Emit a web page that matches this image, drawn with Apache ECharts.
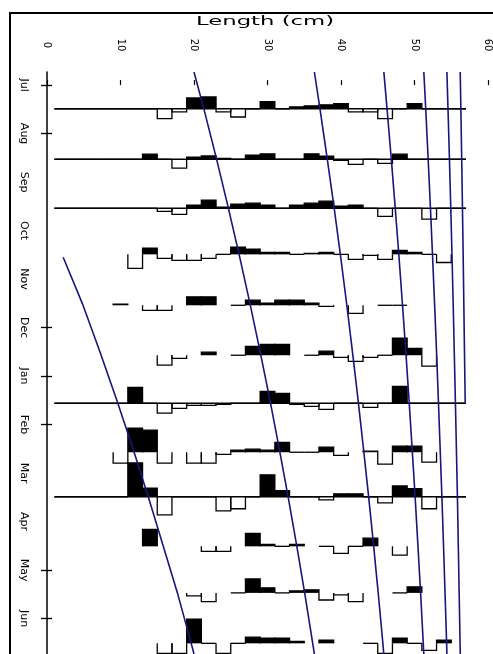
<!DOCTYPE html>
<html>
<head>
<meta charset="utf-8">
<script src="https://cdn.jsdelivr.net/npm/echarts@6/dist/echarts.min.js"></script>
<style>
  html, body { margin: 0; padding: 0; background: #fff; }
  #chart { width: 493px; height: 654px; }
</style>
</head>
<body>
<div id="chart"></div>
<script>
// Month labels along the sampling axis (0 = 1 July)
const monthLabels = ['Jul', 'Aug', 'Sep', 'Oct', 'Nov', 'Dec', 'Jan', 'Feb', 'Mar', 'Apr', 'May', 'Jun'];
const monthLabelValues = [0, 1, 2, 3, 4, 5, 6, 7, 8, 9, 10, 11];
const monthTickValues = [0, 1, 5, 6, 7, 10, 11];
const lengthTicks = [0, 10, 20, 30, 40, 50, 60];

// Length classes (mid-points, cm), 2 cm wide
const binMids = [2, 4, 6, 8, 10, 12, 14, 16, 18, 20, 22, 24, 26, 28,
                 30, 32, 34, 36, 38, 40, 42, 44, 46, 48, 50, 52, 54, 56];

// Sampling dates, in months after 1 July
const sampleMonths = [0.49, 1.53, 2.54, 3.49, 4.54, 5.57, 6.56, 7.57, 8.49, 9.51, 10.47, 11.51];
const sampleBaseline = [true, true, true, false, false, false, true, false, true, false, false, false];

// Restructured frequency scores per sample and length class (null = empty class)
const scoresJul = [0, 0, 0, 0, 0, 0, 0, -0.29, -0.09, 0.32, 0.35, -0.09, -0.24, 0, 0.21, 0, 0.06, 0.09, 0.12, 0.15, -0.09, -0.09, -0.29, 0, 0.15, 0, 0, 0];
const scoresAug = [0, 0, 0, 0, 0, 0, 0.15, 0, -0.26, 0.06, 0.1, 0.03, 0, 0.12, 0.16, 0, 0, 0.16, 0.09, -0.03, -0.15, 0, -0.12, 0.15, 0, 0, 0, 0];
const scoresSep = [0, 0, 0, 0, 0, 0, 0, -0.09, -0.18, 0.09, 0.24, 0.03, 0.12, 0.15, 0.09, 0, 0.09, 0.15, 0.21, 0.06, 0.09, 0, -0.24, 0, 0, -0.32, 0, 0];
const scoresOct = [null, null, null, null, null, -0.41, 0.18, -0.12, -0.18, -0.18, -0.12, 0, 0.21, 0.15, 0.06, 0.06, 0, 0.03, 0.06, 0, -0.15, -0.03, -0.15, 0.12, 0.06, 0, -0.24, null];
const scoresNov = [null, null, null, null, 0.03, null, -0.15, -0.15, null, 0.25, 0.25, null, 0, 0.15, 0.06, 0.15, 0.15, 0.06, -0.03, null, -0.24, null, 0, 0, null, null, null, null];
const scoresDec = [null, null, null, null, null, null, null, -0.29, -0.09, null, 0.09, null, 0, 0.26, 0.32, 0.32, null, 0, 0.12, -0.06, -0.18, -0.06, 0, 0.5, 0.2, -0.32, null, null];
const scoresJan = [0, 0, 0, 0, 0, 0.47, 0, -0.29, -0.15, -0.06, -0.06, -0.03, 0, 0, 0.35, 0.29, -0.03, -0.09, -0.18, 0, 0, -0.12, 0, 0.5, 0, 0, 0, 0];
const scoresFeb = [null, null, null, null, -0.32, 0.71, 0.65, -0.32, null, -0.32, -0.32, -0.06, 0.06, 0.09, 0.06, 0.29, 0, 0, 0.15, -0.09, null, 0.03, -0.35, 0.18, 0.18, -0.29, null, null];
const scoresMar = [0, 0, 0, 0, 0, 1.0, 0.26, -0.53, 0, 0, 0, -0.41, -0.35, 0, 0.65, 0.18, 0, 0, -0.09, 0.09, 0.09, 0, -0.18, 0.32, 0.24, -0.35, 0, 0];
const scoresApr = [null, null, null, null, null, null, 0.5, null, null, null, -0.15, -0.15, null, 0.38, 0.06, 0, 0.06, null, 0, -0.21, 0, 0.24, null, -0.26, null, null, null, null];
const scoresMay = [null, null, null, null, null, null, null, null, null, -0.09, -0.26, null, 0, 0.41, 0.15, 0, 0.06, 0.09, -0.21, -0.06, -0.26, null, null, 0, 0.18, null, null, null];
const scoresJun = [null, null, null, null, null, null, null, -0.3, -0.3, 0.71, 0, -0.3, 0, 0.18, 0.15, 0.15, 0.06, null, 0.09, null, null, 0, -0.3, 0.15, 0, -0.21, 0.09, null];
const sampleScores = [scoresJul, scoresAug, scoresSep, scoresOct, scoresNov, scoresDec,
                      scoresJan, scoresFeb, scoresMar, scoresApr, scoresMay, scoresJun];

// Growth curves, one per cohort: [length (cm), month]
const cohort0 = [[2.2, 3.55], [4.8, 4.5], [7.2, 5.5], [9.5, 6.5], [11.7, 7.5], [13.8, 8.5], [15.8, 9.5], [17.8, 10.5], [19.6, 11.5], [20.0, 11.73]];
const cohort1 = [[20.0, -0.27], [21.36, 0.5], [23.03, 1.5], [24.62, 2.5], [26.15, 3.5], [27.61, 4.5], [29.0, 5.5], [30.34, 6.5], [31.6, 7.5], [32.82, 8.5], [33.98, 9.5], [35.09, 10.5], [36.14, 11.5], [36.38, 11.73]];
const cohort2 = [[36.38, -0.27], [37.15, 0.5], [38.11, 1.5], [39.04, 2.5], [39.92, 3.5], [40.76, 4.5], [41.56, 5.5], [42.33, 6.5], [43.06, 7.5], [43.77, 8.5], [44.44, 9.5], [45.08, 10.5], [45.69, 11.5], [45.82, 11.73]];
const cohort3 = [[45.83, -0.27], [46.27, 0.5], [46.83, 1.5], [47.36, 2.5], [47.87, 3.5], [48.35, 4.5], [48.82, 5.5], [49.26, 6.5], [49.68, 7.5], [50.09, 8.5], [50.47, 9.5], [50.84, 10.5], [51.19, 11.5], [51.27, 11.73]];
const cohort4 = [[51.27, -0.27], [51.53, 0.5], [51.85, 1.5], [52.16, 2.5], [52.45, 3.5], [52.73, 4.5], [53.0, 5.5], [53.25, 6.5], [53.49, 7.5], [53.73, 8.5], [53.95, 9.5], [54.16, 10.5], [54.37, 11.5], [54.41, 11.73]];
const cohort5 = [[54.41, -0.27], [54.56, 0.5], [54.75, 1.5], [54.93, 2.5], [55.1, 3.5], [55.26, 4.5], [55.41, 5.5], [55.56, 6.5], [55.7, 7.5], [55.84, 8.5], [55.96, 9.5], [56.08, 10.5], [56.2, 11.5], [56.23, 11.73]];
const cohort6 = [[56.22, -0.27], [56.31, 0.5], [56.42, 1.5], [56.52, 2.5], [56.62, 3.5], [56.71, 4.5], [56.8, 5.5], [56.9, 6.56]];
const cohorts = [cohort0, cohort1, cohort2, cohort3, cohort4, cohort5, cohort6];

const BIN_WIDTH = 2;          // cm
const LENGTH_MIN = 1, LENGTH_MAX = 57;
const SCORE_TO_MONTHS = 0.70; // bar height of a score of 1, in months
const INK = '#000';
const CURVE = '#16167c';

// Flatten the histogram scores into [length, month, score] records
const barData = [];
sampleScores.forEach((row, i) => {
  row.forEach((v, j) => {
    if (v !== null) barData.push([binMids[j], sampleMonths[i], v]);
  });
});
const baselineData = sampleMonths
  .map((m, i) => sampleBaseline[i] ? [LENGTH_MIN, m, LENGTH_MAX] : null)
  .filter(d => d);

function renderBin(params, api) {
  const L = api.value(0), t = api.value(1), v = api.value(2);
  const a = api.coord([L - BIN_WIDTH / 2, t]);
  const b = api.coord([L + BIN_WIDTH / 2, t - v * SCORE_TO_MONTHS]);
  const stroke = { stroke: INK, lineWidth: 1.3, fill: null };
  if (v === 0) {
    return { type: 'line', shape: { x1: a[0], y1: a[1], x2: b[0], y2: a[1] }, style: stroke };
  }
  if (v > 0) {
    return {
      type: 'group',
      children: [
        { type: 'rect', shape: { x: a[0], y: b[1], width: b[0] - a[0], height: a[1] - b[1] }, style: { fill: INK } },
        { type: 'polyline', shape: { points: [[a[0], a[1]], [a[0], b[1]], [b[0], b[1]], [b[0], a[1]]] }, style: stroke }
      ]
    };
  }
  return {
    type: 'polyline',
    shape: { points: [[a[0], a[1]], [a[0], b[1]], [b[0], b[1]], [b[0], a[1]]] },
    style: stroke
  };
}

function renderBaseline(params, api) {
  const p0 = api.coord([api.value(0), api.value(1)]);
  const p1 = api.coord([api.value(2), api.value(1)]);
  return { type: 'line', shape: { x1: p0[0], y1: p0[1], x2: p1[0], y2: p1[1] }, style: { stroke: INK, lineWidth: 1.5 } };
}

const chart = echarts.init(document.getElementById('chart'), null, { renderer: 'canvas' });

const series = [
  { type: 'custom', name: 'baselines', renderItem: renderBaseline, data: baselineData,
    encode: { x: [0, 2], y: 1 }, silent: true, z: 2 },
  { type: 'custom', name: 'scores', renderItem: renderBin, data: barData,
    encode: { x: 0, y: 1 }, silent: true, z: 3 }
];
cohorts.forEach((c, i) => {
  series.push({
    type: 'line', name: 'cohort' + i, data: c, showSymbol: false, symbol: 'none',
    lineStyle: { color: CURVE, width: 1.6 }, silent: true, z: 4, animation: false
  });
});

chart.setOption({
  animation: false,
  backgroundColor: '#fff',
  grid: { left: 47, top: 72, width: 441, height: 582 },
  xAxis: {
    type: 'value', position: 'top', min: 0, max: 60, interval: 10, offset: 9,
    axisLine: { show: false },
    axisTick: { show: true, length: 5, customValues: lengthTicks, lineStyle: { color: INK, width: 1.2 } },
    axisLabel: { customValues: lengthTicks, rotate: -90, margin: 18, align: 'center', verticalAlign: 'middle',
                 fontSize: 10, color: INK, fontFamily: 'DejaVu Sans' },
    splitLine: { show: false }
  },
  yAxis: [
    {
      type: 'value', inverse: true, min: -0.27, max: 11.73, position: 'left',
      axisLine: { show: true, lineStyle: { color: INK, width: 1.5 } },
      axisTick: { show: true, length: 6, customValues: monthTickValues, lineStyle: { color: INK, width: 1.3 } },
      axisLabel: { customValues: monthLabelValues, formatter: v => monthLabels[Math.round(v)],
                   rotate: -90, margin: 23, align: 'center', verticalAlign: 'middle',
                   fontSize: 11, color: INK, fontFamily: 'DejaVu Sans' },
      splitLine: { show: false }
    },
    {
      type: 'value', inverse: true, min: -0.27, max: 11.73, position: 'left',
      axisLine: { show: false },
      axisTick: { show: true, inside: true, length: 5, customValues: monthTickValues, lineStyle: { color: INK, width: 1.3 } },
      axisLabel: { show: false },
      splitLine: { show: false }
    }
  ],
  graphic: [
    { type: 'rect', shape: { x: 10, y: 13, width: 495, height: 660 },
      style: { fill: null, stroke: INK, lineWidth: 2 }, silent: true },
    { type: 'text', x: 265, y: 22, scaleX: 1.75,
      style: { text: 'Length (cm)', font: '13px "DejaVu Sans"', fill: INK, align: 'center', verticalAlign: 'middle' } }
  ],
  series: series
});
</script>
</body>
</html>
